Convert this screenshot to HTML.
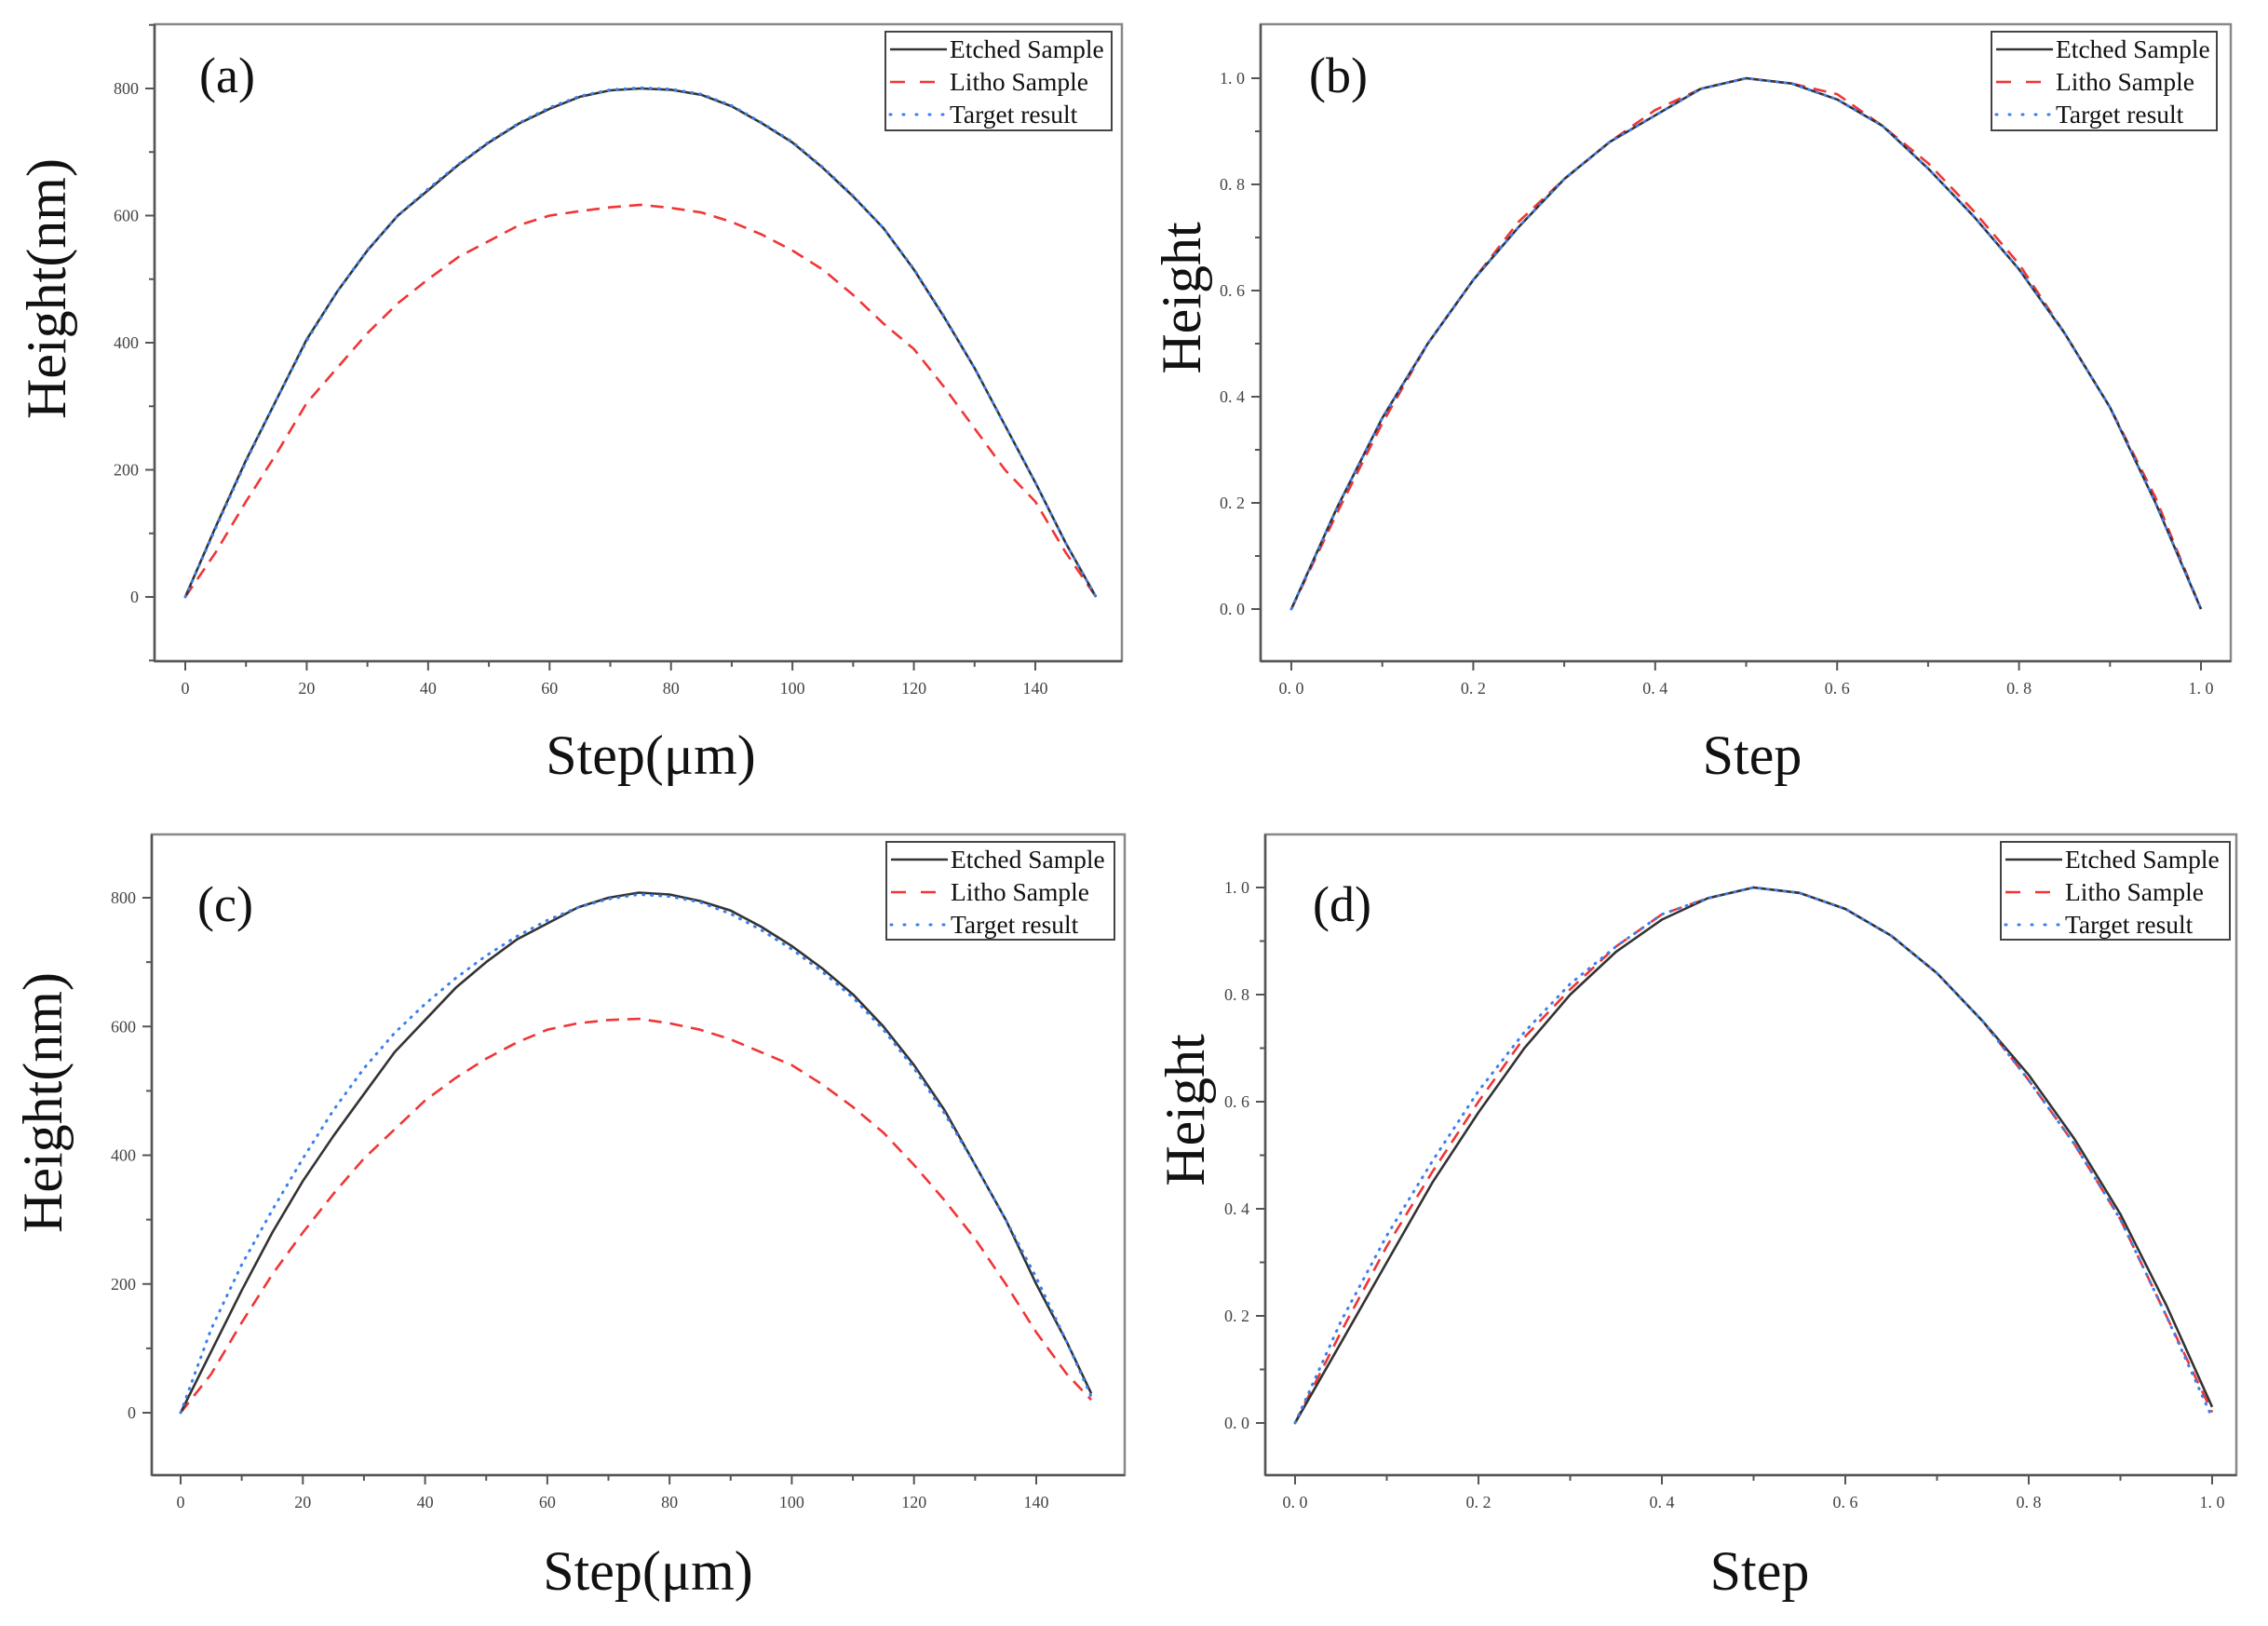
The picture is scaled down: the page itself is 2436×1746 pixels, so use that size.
<!DOCTYPE html>
<html><head><meta charset="utf-8"><style>
html,body{margin:0;padding:0;background:#fff;}
svg{display:block;font-family:"Liberation Serif",serif;}
</style></head><body>
<svg id="fig" width="2436" height="1746" viewBox="0 0 2436 1746" xmlns="http://www.w3.org/2000/svg"></svg>
<script>
// ---- data ----
const xA = [0,5,10,15,20,25,30,35,40,45,50,55,60,65,70,75,80,85,90,95,100,105,110,115,120,125,130,135,140,145,150];
const etchedA = [0,110,215,310,405,480,545,600,640,680,715,745,768,787,797,800,798,790,772,745,715,675,630,580,515,440,360,270,180,85,0];
const lithoA  = [0,70,150,225,305,360,415,462,500,535,560,585,600,607,613,617,612,605,590,570,545,515,475,430,390,330,265,200,150,70,0];
const targetA = [0,108,213,310,403,480,546,600,642,681,716,746,770,788,798,801,799,791,773,746,716,676,631,580,516,441,360,270,180,85,0];

const xB = [0,0.05,0.1,0.15,0.2,0.25,0.3,0.35,0.4,0.45,0.5,0.55,0.6,0.65,0.7,0.75,0.8,0.85,0.9,0.95,1.0];
const etchedB = [0,0.19,0.36,0.50,0.62,0.72,0.81,0.88,0.93,0.98,1.0,0.99,0.96,0.91,0.83,0.74,0.64,0.52,0.38,0.20,0];
const lithoB  = [0,0.18,0.35,0.50,0.62,0.73,0.81,0.88,0.94,0.98,1.0,0.99,0.97,0.91,0.84,0.75,0.65,0.52,0.38,0.21,0];
const targetB = [0,0.19,0.36,0.50,0.62,0.72,0.81,0.88,0.93,0.98,1.0,0.99,0.96,0.91,0.83,0.74,0.64,0.52,0.38,0.20,0];

const xC = [0,5,10,15,20,25,30,35,40,45,50,55,60,65,70,75,80,85,90,95,100,105,110,115,120,125,130,135,140,145,149];
const etchedC = [0,95,190,280,360,430,495,560,610,660,700,735,760,785,800,808,805,795,780,755,725,690,650,600,540,470,385,300,200,110,30];
const lithoC  = [0,60,140,215,280,340,395,440,485,520,550,575,595,605,610,612,605,595,580,560,540,510,475,435,385,330,270,200,125,60,20];
const targetC = [0,130,230,315,395,470,535,590,635,675,710,740,765,785,798,805,802,793,775,750,720,685,645,595,535,465,385,300,210,110,25];

const xD = [0,0.05,0.1,0.15,0.2,0.25,0.3,0.35,0.4,0.45,0.5,0.55,0.6,0.65,0.7,0.75,0.8,0.85,0.9,0.95,1.0];
const etchedD = [0,0.15,0.30,0.45,0.58,0.70,0.80,0.88,0.94,0.98,1.0,0.99,0.96,0.91,0.84,0.75,0.65,0.53,0.39,0.22,0.03];
const lithoD  = [0,0.17,0.33,0.47,0.60,0.72,0.81,0.89,0.95,0.98,1.0,0.99,0.96,0.91,0.84,0.75,0.64,0.52,0.38,0.20,0.02];
const targetD = [0,0.19,0.35,0.49,0.62,0.73,0.82,0.89,0.95,0.98,1.0,0.99,0.96,0.91,0.84,0.75,0.64,0.52,0.38,0.20,0.01];

const xTicksNm = [0,20,40,60,80,100,120,140];
const yTicksNm = [0,200,400,600,800];
const xTicksN = [0,0.2,0.4,0.6,0.8,1.0];
const yTicksN = [0,0.2,0.4,0.6,0.8,1.0];
const xLabelsN = ["0. 0","0. 2","0. 4","0. 6","0. 8","1. 0"];
const yLabelsN = ["0. 0","0. 2","0. 4","0. 6","0. 8","1. 0"];

// ---- drawing ----
const NS="http://www.w3.org/2000/svg";
const svg=document.getElementById('fig');
function mk(tag,attrs,parent){const e=document.createElementNS(NS,tag);for(const k in attrs)e.setAttribute(k,attrs[k]);(parent||svg).appendChild(e);return e;}

function panel(p){
  const g=mk('g',{});
  
  
  const sx=v=>p.x0px+(v-p.xv0)*(p.x1px-p.x0px)/(p.xv1-p.xv0);
  const sy=v=>p.y0px+(v-p.yv0)*(p.y1px-p.y0px)/(p.yv1-p.yv0);
  const fr=mk('rect',{x:p.fx0,y:p.fy0,width:p.fx1-p.fx0,height:p.fy1-p.fy0,fill:'none',stroke:'#888','stroke-width':2.5},g);
  
  const ya=mk('line',{x1:p.fx0,y1:p.fy0,x2:p.fx0,y2:p.fy1,stroke:'#555','stroke-width':2.5},g);
  
  const xa=mk('line',{x1:p.fx0,y1:p.fy1,x2:p.fx1,y2:p.fy1,stroke:'#555','stroke-width':2.5},g);
  
  p.xt.forEach((v,i)=>{
    const X=sx(v);
    mk('line',{x1:X,y1:p.fy1,x2:X,y2:p.fy1+10,stroke:'#555','stroke-width':2},g);
    if(i<p.xt.length-1){const Xm=sx(v+p.xminor);mk('line',{x1:Xm,y1:p.fy1,x2:Xm,y2:p.fy1+6,stroke:'#555','stroke-width':2},g);}
    const t=mk('text',{x:X,y:p.fy1+35,'text-anchor':'middle','font-size':18,fill:'#444'},g);
    t.textContent=p.xl?p.xl[i]:String(v);
    
  });
  p.yt.forEach((v,i)=>{
    const Y=sy(v);
    mk('line',{x1:p.fx0,y1:Y,x2:p.fx0-10,y2:Y,stroke:'#555','stroke-width':2},g);
    const t=mk('text',{x:p.fx0-17,y:Y+6,'text-anchor':'end','font-size':18,fill:'#444'},g);
    t.textContent=p.yl?p.yl[i]:String(v);
    
  });
  p.ym.forEach(v=>{const Y=sy(v);if(Y>p.fy0&&Y<p.fy1)mk('line',{x1:p.fx0,y1:Y,x2:p.fx0-6,y2:Y,stroke:'#555','stroke-width':2},g);});
  const series=[
    {ys:p.litho,name:'litho-sample-line',st:{stroke:'#f03535','stroke-width':2.6,'stroke-dasharray':'14 9',fill:'none'}},
    {ys:p.etched,name:'etched-sample-line',st:{stroke:'#333','stroke-width':2.6,fill:'none'}},
    {ys:p.target,name:'target-result-line',st:{stroke:'#3a7ff0','stroke-width':3,'stroke-dasharray':'1 8','stroke-linecap':'round',fill:'none'}}
  ];
  series.forEach(s=>{
    const d=s.ys.map((v,i)=>(i?'L':'M')+sx(p.xs[i]).toFixed(1)+','+sy(v).toFixed(1)).join('');
    const path=mk('path',Object.assign({d:d,'stroke-linejoin':'round'},s.st),g);
    
    
  });
  const pl=mk('text',{x:p.lab[0],y:p.lab[1],'font-size':54,fill:'#111'},g);
  pl.textContent='('+p.id+')';
  
  const xt=mk('text',{x:p.xtitle[0],y:p.xtitle[1],'text-anchor':'middle','font-size':60,fill:'#111'},g);
  xt.textContent=p.xtt;
  
  const yt=mk('text',{x:0,y:0,'text-anchor':'middle','font-size':60,fill:'#111',transform:'translate('+p.ytitle[0]+','+p.ytitle[1]+') rotate(-90)'},g);
  yt.textContent=p.ytt;
  
  const L=p.leg;
  const lg=mk('g',{},g);
  
  mk('rect',{x:L[0],y:L[1],width:L[2]-L[0],height:L[3]-L[1],fill:'#fff',stroke:'#444','stroke-width':2},lg);
  const items=[['Etched Sample',{stroke:'#333','stroke-width':2.6}],['Litho Sample',{stroke:'#f03535','stroke-width':2.6,'stroke-dasharray':'16 16'}],['Target result',{stroke:'#3a7ff0','stroke-width':3,'stroke-dasharray':'1 13','stroke-linecap':'round'}]];
  items.forEach((it,i)=>{
    const cy=L[1]+19+i*35;
    mk('line',Object.assign({x1:L[0]+5,y1:cy,x2:L[0]+66,y2:cy},it[1]),lg);
    const t=mk('text',{x:L[0]+69,y:cy+9,'font-size':27.5,fill:'#111'},lg);
    t.textContent=it[0];
    
  });
}

panel({id:'a',fx0:166,fx1:1205,fy0:26,fy1:710,x0px:199,x1px:1112,xv0:0,xv1:140,y0px:641,y1px:95,yv0:0,yv1:800,
  xs:xA,etched:etchedA,litho:lithoA,target:targetA,xt:xTicksNm,xminor:10,yt:yTicksNm,ym:[-100,100,300,500,700,900],
  lab:[214,99],xtitle:[699,831],xtt:'Step(μm)',ytitle:[70,310],ytt:'Height(nm)',leg:[951,34,1194,140]});
panel({id:'b',fx0:1354,fx1:2396,fy0:26,fy1:710,x0px:1387,x1px:2364,xv0:0,xv1:1,y0px:654,y1px:84,yv0:0,yv1:1,
  xs:xB,etched:etchedB,litho:lithoB,target:targetB,xt:xTicksN,xl:xLabelsN,xminor:0.1,yt:yTicksN,yl:yLabelsN,ym:[-0.1,0.1,0.3,0.5,0.7,0.9],
  lab:[1406,99],xtitle:[1882,831],xtt:'Step',ytitle:[1289,320],ytt:'Height',leg:[2139,34,2381,140]});
panel({id:'c',fx0:163,fx1:1208,fy0:896,fy1:1584,x0px:194,x1px:1113,xv0:0,xv1:140,y0px:1517,y1px:964,yv0:0,yv1:800,
  xs:xC,etched:etchedC,litho:lithoC,target:targetC,xt:xTicksNm,xminor:10,yt:yTicksNm,ym:[-100,100,300,500,700],
  lab:[212,989],xtitle:[696,1707],xtt:'Step(μm)',ytitle:[66,1184],ytt:'Height(nm)',leg:[952,904,1197,1009]});
panel({id:'d',fx0:1359,fx1:2402,fy0:896,fy1:1584,x0px:1391,x1px:2376,xv0:0,xv1:1,y0px:1528,y1px:953,yv0:0,yv1:1,
  xs:xD,etched:etchedD,litho:lithoD,target:targetD,xt:xTicksN,xl:xLabelsN,xminor:0.1,yt:yTicksN,yl:yLabelsN,ym:[-0.1,0.1,0.3,0.5,0.7,0.9],
  lab:[1410,989],xtitle:[1890,1707],xtt:'Step',ytitle:[1293,1192],ytt:'Height',leg:[2149,904,2395,1009]});
</script>
</body></html>
